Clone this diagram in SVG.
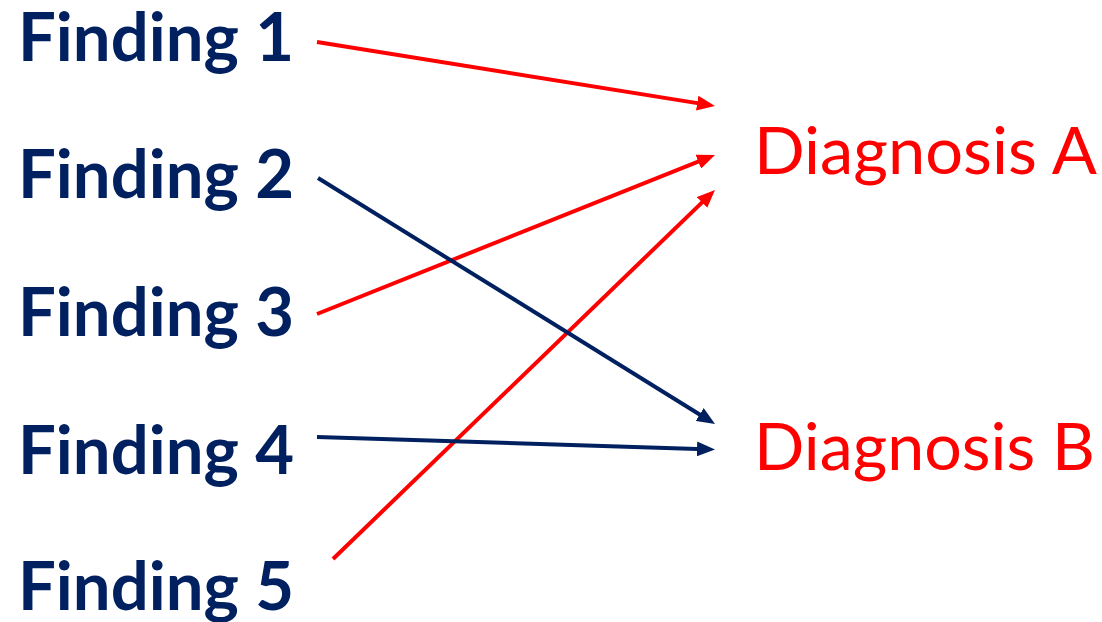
<svg xmlns="http://www.w3.org/2000/svg" width="1102" height="622" viewBox="0 0 1102 622">
<style>
.finding{font-family:Lato,"Open Sans","Liberation Sans",sans-serif;font-weight:bold;font-size:66px;fill:#002060}
.diag{font-family:Lato,"Open Sans","Liberation Sans",sans-serif;font-size:66px;fill:#FF0000}
.red{stroke:#FF0000;stroke-width:4;fill:none;marker-end:url(#ar)}
.navy{stroke:#002060;stroke-width:4;fill:none;marker-end:url(#an)}
</style>
<defs>
<marker id="ar" markerUnits="userSpaceOnUse" markerWidth="18" markerHeight="15" refX="8" refY="7.5" orient="auto"><path d="M0,0 L18,7.5 L0,15 z" fill="#FF0000"/></marker>
<marker id="an" markerUnits="userSpaceOnUse" markerWidth="18" markerHeight="15" refX="8" refY="7.5" orient="auto"><path d="M0,0 L18,7.5 L0,15 z" fill="#002060"/></marker>
</defs>
<rect width="1102" height="622" fill="#FFFFFF"/>
<g id="finding1"><text class="finding" x="18" y="61" textLength="276" lengthAdjust="spacingAndGlyphs">Finding 1</text></g>
<g id="finding2"><text class="finding" x="18" y="198" textLength="276" lengthAdjust="spacingAndGlyphs">Finding 2</text></g>
<g id="finding3"><text class="finding" x="18" y="336" textLength="276" lengthAdjust="spacingAndGlyphs">Finding 3</text></g>
<g id="finding4"><text class="finding" x="18" y="474" textLength="276" lengthAdjust="spacingAndGlyphs">Finding 4</text></g>
<g id="finding5"><text class="finding" x="18" y="610" textLength="276" lengthAdjust="spacingAndGlyphs">Finding 5</text></g>
<g id="diagnosisA"><text class="diag" x="754" y="174" textLength="343" lengthAdjust="spacingAndGlyphs">Diagnosis A</text></g>
<g id="diagnosisB"><text class="diag" x="754" y="470" textLength="341" lengthAdjust="spacingAndGlyphs">Diagnosis B</text></g>
<g id="connectors">
<line class="red" x1="317" y1="42" x2="705.1" y2="104.4"/>
<line class="red" x1="317" y1="314" x2="705.7" y2="158.7"/>
<line class="red" x1="333" y1="559" x2="707.8" y2="196.9"/>
<line class="navy" x1="318" y1="178" x2="706.5" y2="418.7"/>
<line class="navy" x1="317" y1="437" x2="705" y2="449.2"/>
</g>
</svg>
